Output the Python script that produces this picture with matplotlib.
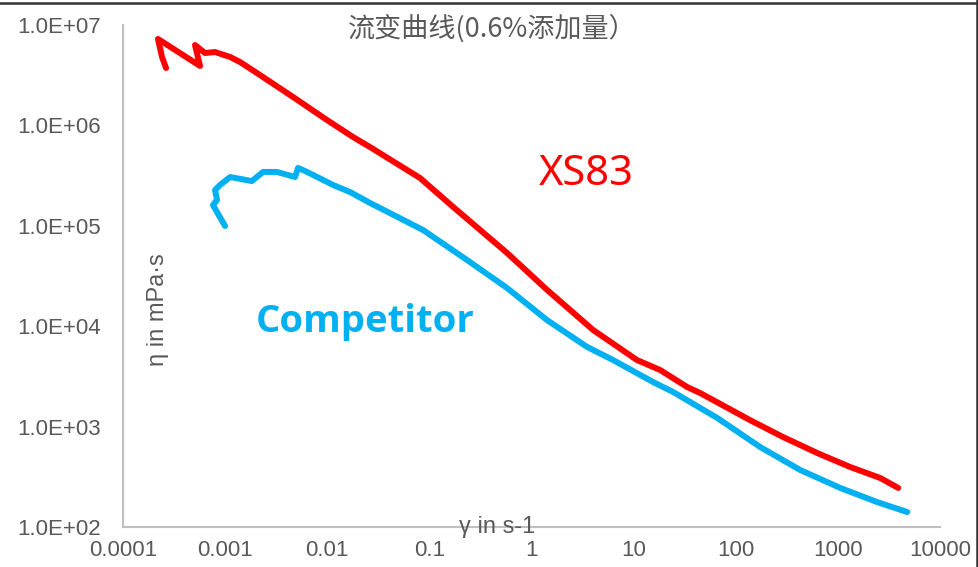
import matplotlib
matplotlib.use("Agg")
import matplotlib.pyplot as plt
from matplotlib.lines import Line2D
from matplotlib.ticker import FixedLocator, FixedFormatter, NullLocator

# shear rate (1/s) and viscosity (mPa.s)
xs83_rate = [2.64e-4, 2.41e-4, 2.20e-4, 5.68e-4, 5.07e-4, 6.35e-4, 7.96e-4, 1.12e-3,
             1.40e-3, 2.35e-3, 4.62e-3, 9.95e-3, 0.0179, 0.0262, 0.0811, 0.171,
             0.577, 1.42, 4.01, 10.8, 18.2, 33.4, 44.8, 138, 291, 627, 1318, 2594, 3899]
xs83_visc = [3.73e6, 4.80e6, 7.26e6, 3.91e6, 6.32e6, 5.26e6, 5.38e6, 4.80e6,
             4.28e6, 3.03e6, 1.92e6, 1.13e6, 7.66e5, 6.09e5, 2.99e5, 1.54e5,
             5.36e4, 2.30e4, 9.17e3, 4.60e3, 3.66e3, 2.48e3, 2.16e3, 1.16e3, 787, 546, 396, 308, 245]

comp_rate = [9.98e-4, 7.60e-4, 8.34e-4, 7.96e-4, 8.91e-4, 1.12e-3, 1.83e-3, 2.35e-3,
             3.22e-3, 4.84e-3, 5.18e-3, 6.34e-3, 0.0114, 0.0167, 0.0262, 0.0867,
             0.234, 0.577, 1.42, 3.51, 6.30, 15.5, 24.4, 65.8, 173, 427, 1054, 2427, 4773]
comp_visc = [9.95e4, 1.61e5, 1.81e5, 2.27e5, 2.55e5, 3.06e5, 2.79e5, 3.44e5,
             3.44e5, 3.06e5, 3.77e5, 3.44e5, 2.55e5, 2.17e5, 1.69e5, 9.08e4,
             4.56e4, 2.40e4, 1.15e4, 6.21e3, 4.60e3, 2.78e3, 2.21e3, 1.22e3, 627, 370, 245, 177, 141]

x_ticks = [1e-4, 1e-3, 1e-2, 1e-1, 1, 10, 100, 1000, 10000]
x_tick_labels = ["0.0001", "0.001", "0.01", "0.1", "1", "10", "100", "1000", "10000"]
y_ticks = [1e2, 1e3, 1e4, 1e5, 1e6, 1e7]
y_tick_labels = ["1.0E+02", "1.0E+03", "1.0E+04", "1.0E+05", "1.0E+06", "1.0E+07"]

RED = "#FF0000"
BLUE = "#00B0F0"
GRAY_TXT = "#595959"
GRAY_AX = "#BFBFBF"

plt.rcParams["font.family"] = ["Liberation Sans", "DejaVu Sans"]

fig = plt.figure(figsize=(9.79, 5.67), dpi=100)
ax = fig.add_axes([123 / 979, 1 - 527 / 567, (940 - 123) / 979, (527 - 25) / 567])

ax.plot(xs83_rate, xs83_visc, color=RED, lw=4.3, solid_capstyle="round", solid_joinstyle="round")
ax.plot(comp_rate, comp_visc, color=BLUE, lw=4.3, solid_capstyle="round", solid_joinstyle="round")

ax.set_xscale("log")
ax.set_yscale("log")
ax.set_xlim(1e-4, 1e4)
ax.set_ylim(1e2, 1e7)

ax.xaxis.set_major_locator(FixedLocator(x_ticks))
ax.xaxis.set_major_formatter(FixedFormatter(x_tick_labels))
ax.xaxis.set_minor_locator(NullLocator())
ax.yaxis.set_major_locator(FixedLocator(y_ticks))
ax.yaxis.set_major_formatter(FixedFormatter(y_tick_labels))
ax.yaxis.set_minor_locator(NullLocator())
ax.tick_params(axis="both", length=0, labelsize=16, labelcolor=GRAY_TXT)
ax.tick_params(axis="x", pad=9)
ax.tick_params(axis="y", pad=16)

for side in ["top", "right"]:
    ax.spines[side].set_visible(False)
for side in ["left", "bottom"]:
    ax.spines[side].set_color(GRAY_AX)
    ax.spines[side].set_linewidth(1.5)

# title and axis labels sit inside / on the plot area like in the original
fig.text(492 / 979, 1 - 28 / 567, "流变曲线(0.6%添加量）", ha="center", va="center",
         fontsize=19.5, color=GRAY_TXT, family=["Noto Sans CJK SC", "DejaVu Sans"])
fig.text(158 / 979, 1 - 310 / 567, "η in mPa·s", rotation=90, ha="center", va="center",
         fontsize=17, color=GRAY_TXT)
fig.text(497 / 979, 1 - 527 / 567, "γ in s-1", ha="center", va="center",
         fontsize=17, color=GRAY_TXT)

fig.text(586 / 979, 1 - 174 / 567, "XS83", ha="center", va="center",
         fontsize=30, color=RED, family=["Noto Sans", "DejaVu Sans"])
fig.text(365 / 979, 1 - 322 / 567, "Competitor", ha="center", va="center",
         fontsize=27.5, color=BLUE, fontweight="bold", family=["Open Sans", "DejaVu Sans"])

# dark frame lines at the top and right edge of the picture
fig.add_artist(Line2D([0, 1], [1 - 2.5 / 567, 1 - 2.5 / 567], color="#333333", lw=1.8))
fig.add_artist(Line2D([1 - 1.5 / 979, 1 - 1.5 / 979], [0, 1], color="#333333", lw=1.8))

fig.savefig("out.png", dpi=100)
